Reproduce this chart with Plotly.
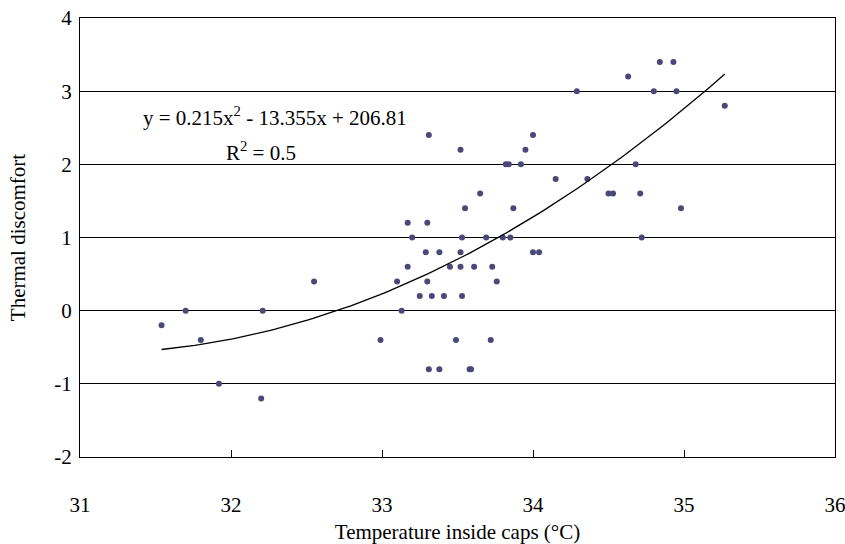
import numpy as np
import plotly.graph_objects as go

# Measured data: temperature inside caps (°C) vs thermal discomfort
temperature = [31.54, 31.70, 31.80, 31.92, 32.21, 32.20, 32.55, 32.99, 33.10, 33.13,
               33.17, 33.17, 33.20, 33.25, 33.29, 33.30, 33.30, 33.31, 33.31, 33.33,
               33.38, 33.38, 33.41, 33.45, 33.49, 33.52, 33.52, 33.52, 33.53, 33.53,
               33.55, 33.58, 33.59, 33.61, 33.65, 33.69, 33.72, 33.73, 33.76, 33.80,
               33.82, 33.84, 33.85, 33.87, 33.92, 33.95, 34.00, 34.00, 34.04, 34.15,
               34.29, 34.36, 34.50, 34.53, 34.63, 34.68, 34.71, 34.72, 34.80, 34.84,
               34.93, 34.95, 34.98, 35.27]
discomfort = [-0.2, 0.0, -0.4, -1.0, 0.0, -1.2, 0.4, -0.4, 0.4, 0.0,
              1.2, 0.6, 1.0, 0.2, 0.8, 1.2, 0.4, 2.4, -0.8, 0.2,
              0.8, -0.8, 0.2, 0.6, -0.4, 2.2, 0.8, 0.6, 1.0, 0.2,
              1.4, -0.8, -0.8, 0.6, 1.6, 1.0, -0.4, 0.6, 0.4, 1.0,
              2.0, 2.0, 1.0, 1.4, 2.0, 2.2, 2.4, 0.8, 0.8, 1.8,
              3.0, 1.8, 1.6, 1.6, 3.2, 2.0, 1.6, 1.0, 3.0, 3.4,
              3.4, 3.0, 1.4, 2.8]

# Trendline coefficients as printed on the chart
coef_a, coef_b, coef_c = 0.215, -13.355, 206.81
eq_text = "y = 0.215x<sup>2</sup> - 13.355x + 206.81"
r2_text = "R<sup>2</sup> = 0.5"

x_ticks = [31, 32, 33, 34, 35, 36]
x_tick_labels = ["31", "32", "33", "34", "35", "36"]
y_ticks = [-2, -1, 0, 1, 2, 3, 4]
y_tick_labels = ["-2", "-1", "0", "1", "2", "3", "4"]

trend_x = np.linspace(min(temperature), max(temperature), 120)
trend_y = coef_a * trend_x ** 2 + coef_b * trend_x + coef_c

FONT = "Liberation Serif"
FS = 21

fig = go.Figure()
fig.add_trace(go.Scatter(x=temperature, y=discomfort, mode="markers",
                         marker=dict(size=6, color="#4a4878"), showlegend=False))
fig.add_trace(go.Scatter(x=trend_x, y=trend_y, mode="lines",
                         line=dict(color="black", width=1.3), showlegend=False))

fig.add_annotation(x=32.29, y=2.66, text=eq_text, showarrow=False,
                   font=dict(family=FONT, size=FS, color="black"))
fig.add_annotation(x=32.20, y=2.17, text=r2_text, showarrow=False,
                   font=dict(family=FONT, size=FS, color="black"))

fig.update_layout(
    width=845, height=544,
    margin=dict(l=80, r=10, t=18, b=87),
    paper_bgcolor="white", plot_bgcolor="white",
    font=dict(family=FONT, size=FS, color="black"),
    xaxis=dict(range=[31, 36], tickvals=x_ticks, ticktext=x_tick_labels,
               showgrid=False, zeroline=False, automargin=False,
               showline=True, linecolor="black", linewidth=1.3, mirror=True,
               ticks="inside", ticklen=7, tickcolor="black",
               ticklabelstandoff=29, ticklabeloverflow="allow",
               tickfont=dict(family=FONT, size=FS),
               title=dict(text="Temperature inside caps (°C)", standoff=10,
                          font=dict(family=FONT, size=FS))),
    yaxis=dict(range=[-2, 4], tickvals=y_ticks, ticktext=y_tick_labels,
               showgrid=True, gridcolor="black", gridwidth=1, zeroline=False,
               automargin=False,
               showline=True, linecolor="black", linewidth=1.3, mirror=True,
               ticks="", ticklabelstandoff=3, ticklabeloverflow="allow",
               tickfont=dict(family=FONT, size=FS),
               title=dict(text="Thermal discomfort", standoff=22,
                          font=dict(family=FONT, size=FS))),
)

fig.write_html("out.html")
